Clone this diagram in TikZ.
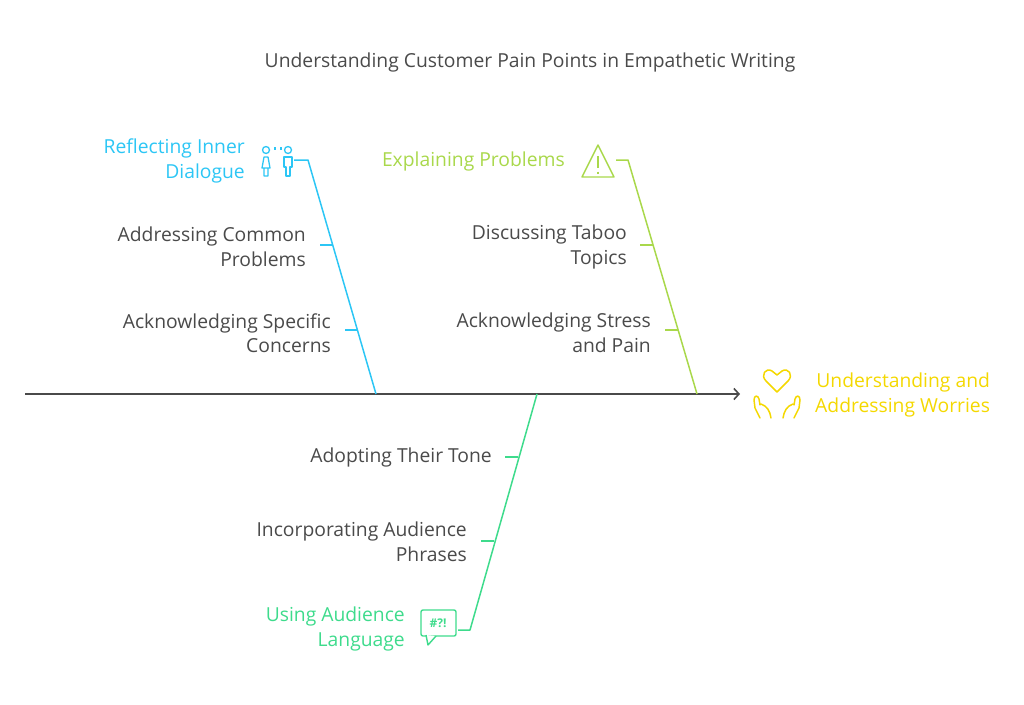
\documentclass[tikz,border=0pt]{standalone}
\usepackage{fontspec}
\setmainfont{Open Sans}
\usetikzlibrary{arrows.meta}
\begin{document}
\begin{tikzpicture}[x=1pt,y=-1pt,
  lbl/.style={font=\fontsize{19.3}{24.5}\selectfont,text=txt,align=right,anchor=east,inner sep=0},
  bone/.style={line width=1.5pt,line join=round}]
\definecolor{txt}{HTML}{4A4A4A}
\definecolor{cb}{HTML}{2CC6F5}
\definecolor{cl}{HTML}{A9D84B}
\definecolor{cg}{HTML}{3EDB8C}
\definecolor{cy}{HTML}{F4D800}
\useasboundingbox (0,0) rectangle (1024,704);
\node[font=\fontsize{19.3}{24}\selectfont,text=txt] (title) at (530,62) {Understanding Customer Pain Points in Empathetic Writing};
% spine
\coordinate (s0) at (25,394); \coordinate (s1) at (740,394);
\draw[line width=1.6pt,txt,-{Straight Barb[length=5pt,width=11pt]}] (s0) -- (s1);
% blue
\coordinate (b0) at (294,160); \coordinate (b1) at (308,160); \coordinate (b2) at (376,394);
\draw[bone,cb] (b0)--(b1)--(b2);
\draw[bone,cb] (320,245)--(333,245) (345,330)--(358,330);
\node[lbl,text=cb] (rb) at (245,161) {Reflecting Inner\\Dialogue};
\node[lbl] (ac) at (306,247) {Addressing Common\\Problems};
\node[lbl] (as) at (331,333) {Acknowledging Specific\\Concerns};
% people icon
\begin{scope}[cb,line width=1.3pt,line join=round]
\draw (266,150) circle (3.5);
\draw (288,150) circle (3.5);
\draw (262,168)--(264,157)--(268,157)--(270,168)--cycle (264,168)--(264,176)--(268,176)--(268,168);
\draw (284,157)--(292,157)--(292,167)--(290,167)--(290,176)--(286,176)--(286,167)--(284,167)--cycle;
\draw (275,147) arc (-30:30:3) (281,147) arc (210:150:3);
\end{scope}
% lime
\coordinate (l0) at (616,160); \coordinate (l1) at (628,160); \coordinate (l2) at (697,394);
\draw[bone,cl] (l0)--(l1)--(l2);
\draw[bone,cl] (640,245)--(653,245) (665,330)--(678,330);
\node[lbl,text=cl] (ep) at (565,161) {Explaining Problems};
\node[lbl] (dt) at (627,247) {Discussing Taboo\\Topics};
\node[lbl] (asp) at (651,333) {Acknowledging Stress\\and Pain};
\draw[cl,line width=1.4pt,line join=round] (598,145)--(614,177)--(582,177)--cycle;
\draw[cl,line width=1.4pt] (598,156)--(598,168) (598,171.5)--(598,173.5);
% green
\coordinate (g0) at (537,394); \coordinate (g1) at (470,630); \coordinate (g2) at (458,630);
\draw[bone,cg] (g0)--(g1)--(g2);
\draw[bone,cg] (505,457)--(518,457) (481,541)--(494,541);
\node[lbl] (at) at (492,457) {Adopting Their Tone};
\node[lbl] (ia) at (467,542) {Incorporating Audience\\Phrases};
\node[lbl,text=cg] (ua) at (405,629) {Using Audience\\Language};
\draw[cg,line width=1.4pt,rounded corners=2pt] (421,610) rectangle (456,636);
\draw[cg,line width=1.4pt,line join=round,fill=white] (426,635)--(428,645)--(436,636);
\node[text=cg,font=\bfseries\fontsize{12}{12}\selectfont] (sym) at (438,623) {\#?!};
% yellow
\node[lbl,text=cy,anchor=west] (uw) at (815,395) {Understanding and\\Addressing Worries};
\begin{scope}[cy,line width=1.5pt,line cap=round,line join=round]
\draw (777,392) -- (766,381) .. controls (760,375) and (766,367) .. (772,371) -- (777,375) -- (782,371) .. controls (788,367) and (794,375) .. (788,381) -- cycle;
\draw (760,418) -- (755,408) -- (754,400) .. controls (754,395) and (758,395) .. (759,399) -- (760,405) (761,404) .. controls (767,406) and (770,411) .. (771,418);
\draw (794,418) -- (799,408) -- (800,400) .. controls (800,395) and (796,395) .. (795,399) -- (794,405) (793,404) .. controls (787,406) and (784,411) .. (783,418);
\end{scope}
\end{tikzpicture}
\end{document}
